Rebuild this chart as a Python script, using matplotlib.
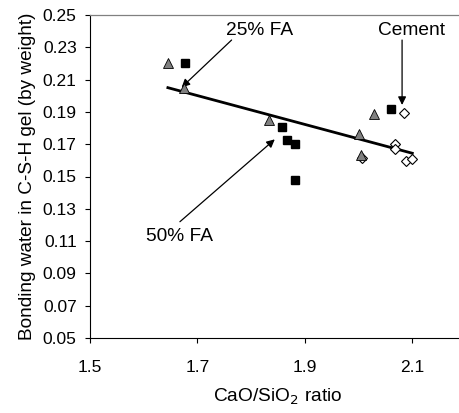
import matplotlib
matplotlib.use("Agg")
import matplotlib.pyplot as plt

plt.rcParams.update({
    "font.family": ["Liberation Sans", "DejaVu Sans"],
    "font.size": 12,
})

# ---- data -----------------------------------------------------------------
# 25% FA (grey triangles)
fa25_x = [1.645, 1.675, 1.833, 2.000, 2.005, 2.028]
fa25_y = [0.2205, 0.2050, 0.1850, 0.1763, 0.1635, 0.1885]
# 50% FA (black squares)
fa50_x = [1.677, 1.857, 1.866, 1.881, 1.881, 2.061]
fa50_y = [0.2205, 0.1809, 0.1726, 0.1700, 0.1478, 0.1916]
# Cement (open diamonds)
cem_x = [2.084, 2.067, 2.067, 2.088, 2.100, 2.007]
cem_y = [0.1895, 0.1700, 0.1670, 0.1598, 0.1607, 0.1615]
# linear trend
trend_x = [1.645, 2.100]
trend_y = [0.2050, 0.1644]

xticks = [1.5, 1.7, 1.9, 2.1]
yticks = [0.05, 0.07, 0.09, 0.11, 0.13, 0.15, 0.17, 0.19, 0.21, 0.23, 0.25]

# ---- figure ---------------------------------------------------------------
fig = plt.figure(figsize=(4.6, 4.13), dpi=100)
ax = fig.add_axes([90 / 460, 1 - 338 / 413, 376 / 460, 323 / 413])

ax.plot(trend_x, trend_y, "-", color="black", lw=2.0, zorder=3)
ax.plot(cem_x, cem_y, "D", ls="none", mfc="white", mec="black", mew=0.8, ms=5, zorder=4)
ax.plot(fa50_x, fa50_y, "s", ls="none", mfc="black", mec="black", ms=5.5, zorder=4)
ax.plot(fa25_x, fa25_y, "^", ls="none", mfc="#808080", mec="black", mew=0.6, ms=6.5, zorder=5)

arrow = dict(arrowstyle="-|>", color="black", lw=0.9, mutation_scale=12,
             shrinkA=0, shrinkB=0)
ax.text(1.816, 0.2407, "25% FA", ha="center", va="center", fontsize=13.8)
ax.annotate("", xy=(1.6706, 0.2052), xytext=(1.7636, 0.2345), arrowprops=arrow)
ax.text(2.0985, 0.2407, "Cement", ha="center", va="center", fontsize=13.8)
ax.annotate("", xy=(2.081, 0.1943), xytext=(2.081, 0.2345), arrowprops=arrow)
ax.text(1.667, 0.1127, "50% FA", ha="center", va="center", fontsize=13.8)
ax.annotate("", xy=(1.844, 0.1730), xytext=(1.6674, 0.1220), arrowprops=arrow)

ax.set_xlim(1.5, 2.2)
ax.set_ylim(0.05, 0.25)
ax.set_xticks(xticks)
ax.set_xticklabels([f"{v:.1f}" for v in xticks])
ax.set_yticks(yticks)
ax.set_yticklabels([f"{v:.2f}" for v in yticks])
ax.tick_params(axis="both", direction="out", length=3.6, width=0.8, labelsize=12.5)
ax.tick_params(axis="x", pad=12)
ax.tick_params(axis="y", pad=6)
ax.spines["right"].set_visible(False)
ax.spines["top"].set_color("#808080")
ax.spines["top"].set_linewidth(0.9)

ax.set_xlabel("CaO/SiO$_2$ ratio", fontsize=13.8, labelpad=9)
ax.set_ylabel("Bonding water in C-S-H gel (by weight)", fontsize=13.7, labelpad=5)

fig.savefig("out.png", dpi=100)
